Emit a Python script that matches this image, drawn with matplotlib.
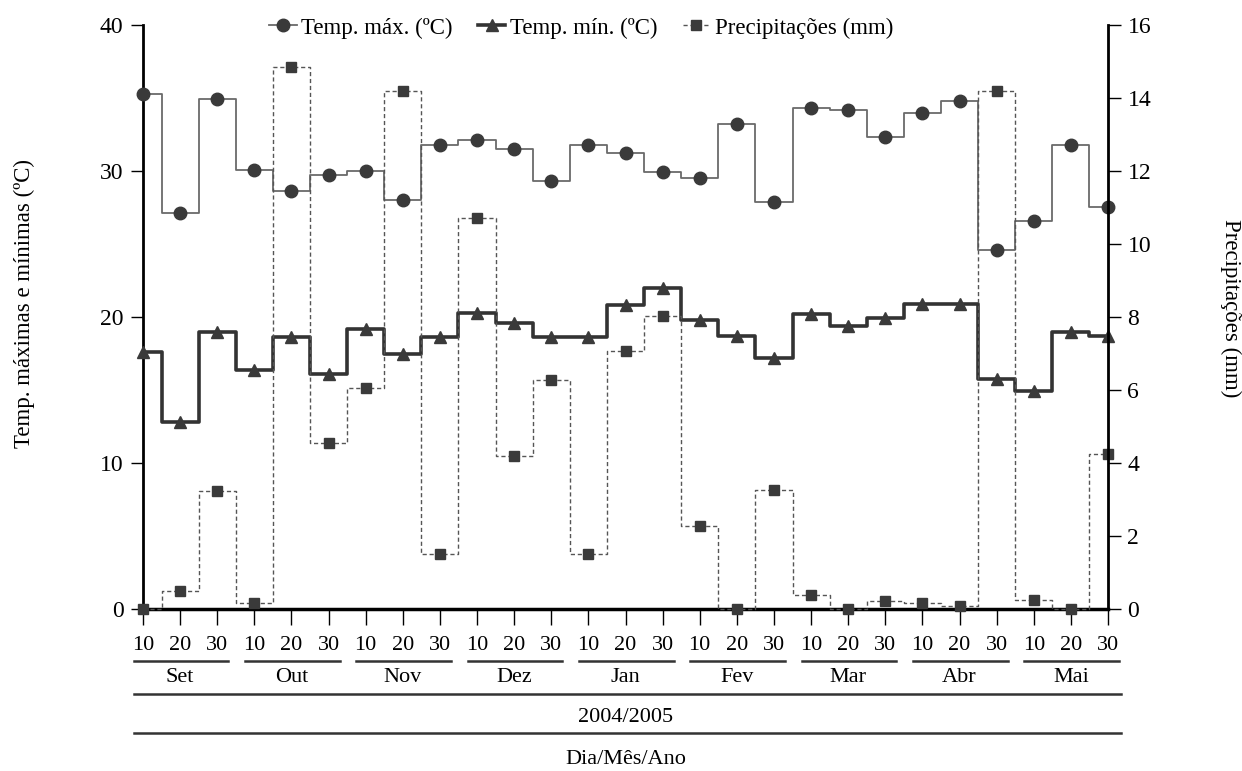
import matplotlib.pyplot as plt
import matplotlib.transforms as mtransforms
from matplotlib.lines import Line2D

plt.rcParams['font.family'] = ['Liberation Serif', 'DejaVu Serif']

# decêndios (10, 20, 30) de setembro/2004 a maio/2005
months = ['Set', 'Out', 'Nov', 'Dez', 'Jan', 'Fev', 'Mar', 'Abr', 'Mai']
day_labels = ['10', '20', '30']

temp_max = [35.3, 27.1, 34.9, 30.1, 28.6, 29.7, 30.0, 28.0, 31.8,
            32.1, 31.5, 29.3, 31.8, 31.2, 29.9, 29.5, 33.2, 27.9,
            34.3, 34.2, 32.3, 34.0, 34.8, 24.6, 26.6, 31.8, 27.5]
temp_min = [17.6, 12.8, 19.0, 16.4, 18.6, 16.1, 19.2, 17.5, 18.6,
            20.3, 19.6, 18.6, 18.65, 20.8, 22.0, 19.8, 18.7, 17.2,
            20.2, 19.4, 19.9, 20.9, 20.9, 15.75, 14.9, 19.0, 18.7]
precip = [0.0, 0.5, 3.23, 0.17, 14.85, 4.55, 6.05, 14.2, 1.5,
          10.7, 4.2, 6.27, 1.5, 7.07, 8.03, 2.27, 0.0, 3.27,
          0.38, 0.0, 0.23, 0.17, 0.08, 14.2, 0.25, 0.0, 4.25]

x = list(range(1, len(temp_max) + 1))
W, H = 1242, 771
fig = plt.figure(figsize=(W / 100, H / 100), dpi=100)
ax = fig.add_axes([143 / W, 1 - 609 / H, (1108 - 143) / W, (609 - 25) / H])
ax2 = ax.twinx()

mcol = '#3a3a3a'
l1, = ax.plot(x, temp_max, drawstyle='steps-mid', color='#6a6a6a', lw=1.3,
              marker='o', ms=9, mfc=mcol, mec=mcol, clip_on=False, zorder=3)
l2, = ax.plot(x, temp_min, drawstyle='steps-mid', color='#333333', lw=2.6,
              marker='^', ms=9, mfc=mcol, mec=mcol, clip_on=False, zorder=3)
l3, = ax2.plot(x, precip, drawstyle='steps-mid', color='#555555', lw=1.0,
               ls=(0, (3, 2)), marker='s', ms=6.5, mfc=mcol, mec=mcol,
               clip_on=False)

ax.set_xlim(1, 27)
ax.set_ylim(0, 40)
ax2.set_ylim(0, 16)
ax.set_yticks(range(0, 41, 10))
ax2.set_yticks(range(0, 17, 2))
ax.set_xticks(x)
ax.set_xticklabels(day_labels * len(months))

for a in (ax, ax2):
    a.spines['top'].set_visible(False)
ax.spines['left'].set_linewidth(2)
ax2.spines['right'].set_linewidth(2)
ax.spines['bottom'].set_linewidth(2.5)
ax2.spines['left'].set_visible(False)
ax2.spines['bottom'].set_visible(False)

ax.tick_params(axis='x', direction='out', length=11.5, width=1, pad=8,
               labelsize=16)
ax.tick_params(axis='y', direction='out', length=9, width=1, labelsize=17,
               pad=5)
ax2.tick_params(axis='y', direction='out', length=9, width=1, labelsize=17,
                pad=5)

# month rows below the axis
tr = mtransforms.blended_transform_factory(ax.transData, fig.transFigure)
for i, m in enumerate(months):
    x0 = 3 * i + 1
    fig.add_artist(Line2D([x0 - 0.25, x0 + 2.3], [1 - 661 / H] * 2,
                          transform=tr, color='#333333', lw=1.8))
    fig.text(x0 + 1, 1 - 678 / H, m, transform=tr, ha='center', va='center',
             fontsize=16)

for yp in (694, 733):
    fig.add_artist(Line2D([0.75, 27.35], [1 - yp / H] * 2, transform=tr,
                          color='#333333', lw=1.8))
fig.text(14, 1 - 717 / H, '2004/2005', transform=tr, ha='center',
         va='center', fontsize=16)
fig.text(14, 1 - 760 / H, 'Dia/Mês/Ano', transform=tr, ha='center',
         va='center', fontsize=16)

fig.text(24 / W, 1 - 304 / H, 'Temp. máximas e mínimas (ºC)', rotation=90,
         ha='center', va='center', fontsize=16.5)
fig.text(1231 / W, 1 - 308 / H, 'Precipitações (mm)', rotation=270,
         ha='center', va='center', fontsize=16.5)

ax.legend([l1, l2, l3], ['Temp. máx. (ºC)', 'Temp. mín. (ºC)',
                         'Precipitações (mm)'],
          loc='center', bbox_to_anchor=(0.454, 0.995), ncol=3, frameon=False,
          fontsize=16.5, handlelength=1.2, handletextpad=0.2,
          columnspacing=1.1)

fig.savefig('out.png', dpi=100)
